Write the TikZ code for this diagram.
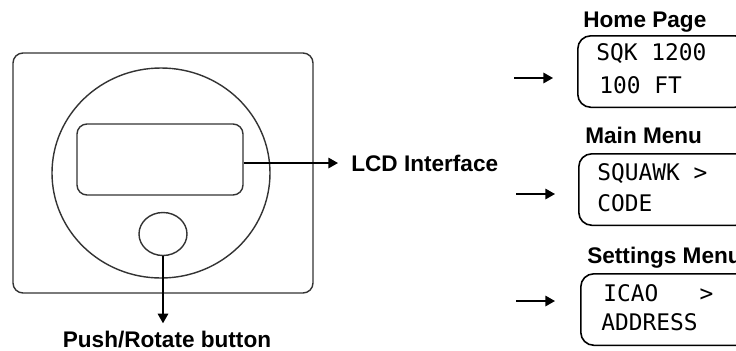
\documentclass[tikz,border=0pt]{standalone}
\usepackage{fontspec}
\setmainfont{Liberation Sans}
\setmonofont{DejaVu Sans Mono}
\usetikzlibrary{arrows.meta,shapes.geometric}
\tikzset{
	body/.style={draw=black!80, line width=0.8pt, rounded corners=0.2cm, inner sep=0pt},
	round/.style={draw=black!80, line width=0.8pt, ellipse, inner sep=0pt},
	screen/.style={draw=black, line width=0.9pt, rounded corners=0.26cm, inner sep=0pt, minimum width=3.4cm, minimum height=1.43cm},
	title/.style={font=\bfseries\fontsize{12.85}{15}\selectfont, inner sep=0pt},
	lcdtext/.style={font=\ttfamily\fontsize{13}{15}\selectfont, anchor=base west, inner sep=0pt},
	pointer/.style={line width=0.9pt, -{Triangle[length=5.5pt, width=6pt]}}
}
\begin{document}
\begin{tikzpicture}
	%%%%% START %%%%%
	\useasboundingbox (0, 0) rectangle (14.72, 7);

	\node[body, minimum width=6cm, minimum height=4.8cm] (case) at (3.26, 3.54) {};
	\node[round, minimum width=4.36cm, minimum height=4.2cm] (dial) at (3.22, 3.54) {};
	\node[body, minimum width=3.32cm, minimum height=1.42cm] (lcd) at (3.2, 3.81) {};
	\node[round, minimum width=0.96cm, minimum height=0.86cm] (button) at (3.26, 2.32) {};

	\node[title, anchor=west] (lcdlabel) at (7.02, 3.74) {LCD Interface};
	\node[title, anchor=base] (pushlabel) at (3.34, 0.06) {Push/Rotate button};

	\draw[pointer] (lcd.east |- lcdlabel.west) -- ([xshift=-0.26cm]lcdlabel.west);
	\draw[pointer] (button.south) -- ([yshift=0.14cm]button.south |- pushlabel.north);

	\node[title, anchor=base west] (hometitle) at (11.66, 6.46) {Home Page};
	\node[screen, anchor=north west] (home) at (11.54, 6.3) {};
	\node[lcdtext] (homeone) at (11.92, 5.8) {SQK 1200};
	\node[lcdtext] (hometwo) at (11.98, 5.14) {100 FT};

	\node[title, anchor=base west] (maintitle) at (11.7, 4.14) {Main Menu};
	\node[screen, anchor=north west] (main) at (11.56, 3.94) {};
	\node[lcdtext] (mainone) at (11.94, 3.4) {SQUAWK~>};
	\node[lcdtext] (maintwo) at (11.94, 2.78) {CODE};

	\node[title, anchor=base west] (settingstitle) at (11.74, 1.74) {Settings Menu};
	\node[screen, anchor=north west] (settings) at (11.6, 1.54) {};
	\node[lcdtext] (settingsone) at (12.06, 0.98) {ICAO~~~>};
	\node[lcdtext] (settingstwo) at (12.02, 0.4) {ADDRESS};

	\coordinate (homefrom) at (10.28, 5.44);
	\coordinate (hometo) at (11.06, 5.44);
	\coordinate (mainfrom) at (10.32, 3.12);
	\coordinate (mainto) at (11.1, 3.12);
	\coordinate (settingsfrom) at (10.32, 0.98);
	\coordinate (settingsto) at (11.1, 0.98);
	\draw[pointer] (homefrom) -- (hometo);
	\draw[pointer] (mainfrom) -- (mainto);
	\draw[pointer] (settingsfrom) -- (settingsto);
	%%%%% END %%%%%
\end{tikzpicture}
\end{document}
